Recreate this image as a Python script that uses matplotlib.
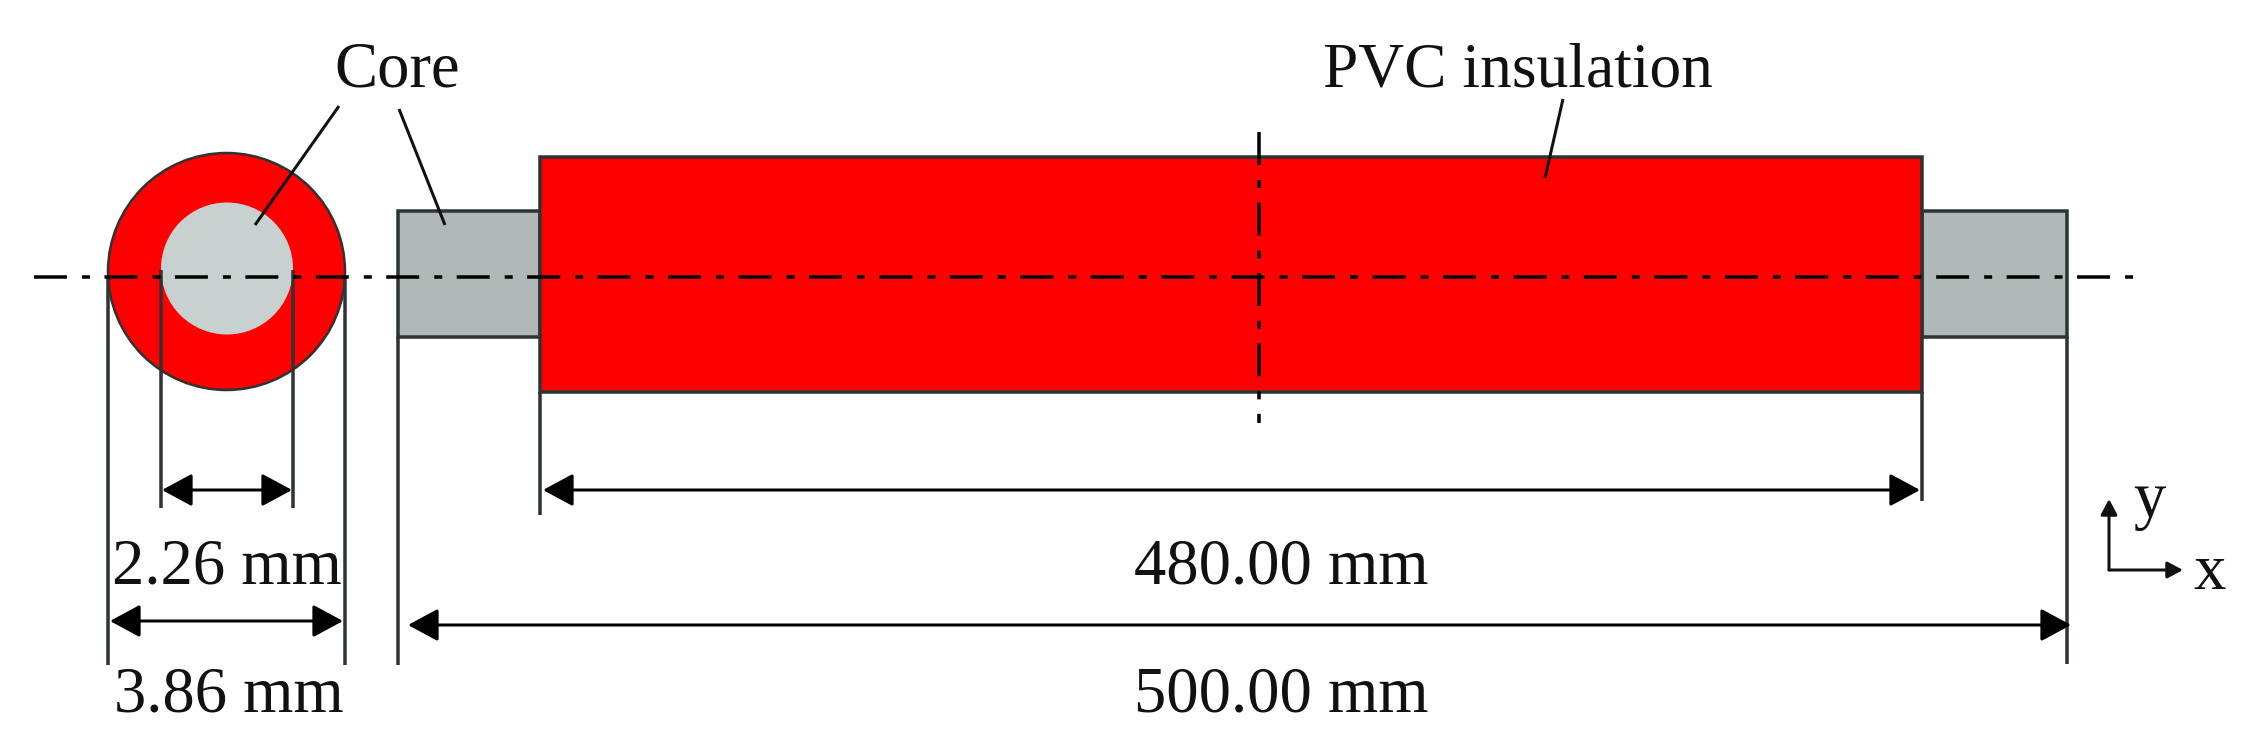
import matplotlib
matplotlib.use("Agg")
import matplotlib.pyplot as plt
from matplotlib.patches import Circle, Rectangle

# everything in reference pixels
W, H = 2246, 748
PX = 0.72  # pixel -> point at dpi 100

plt.rcParams['font.family'] = ['Liberation Serif', 'DejaVu Serif']
plt.rcParams['lines.scale_dashes'] = False

# cross section
outer_center = (226.5, 271.5)
outer_radius = 118.5
core_center = (227, 268.5)
core_radius = 66

# side view: x0, x1, y0, y1
wire_left = (398, 540, 211, 337)
wire_right = (1922, 2067, 211, 337)
insulation = (540, 1922, 156.5, 392)

# center lines: x0, y0, x1, y1
center_lines = [(34, 277, 2133, 277), (1259, 132, 1259, 423)]

# extension lines: x, y0, y1
ext_lines = [(108, 277, 665), (345, 277, 665), (161, 270, 508), (293, 270, 508),
             (398, 337, 665), (2067, 337, 664), (540, 392, 515), (1922, 392, 501)]

# leaders: x0, y0, x1, y1
leaders = [(339, 106, 255, 225), (399, 109, 445, 225), (1563, 99, 1545, 178)]

# dimension arrows: x0, x1, y
dim_arrows = [(162, 292, 490), (110, 343, 621), (543, 1920, 490), (408, 2071, 625)]

# labels: text, x, baseline y, size
labels = [('Core', 334, 86, 46.5), ('PVC insulation', 1323, 86, 45.7),
          ('2.26 mm', 112, 583, 46.5), ('3.86 mm', 114, 712, 46.5),
          ('480.00 mm', 1134, 584, 46.5), ('500.00 mm', 1134, 712, 46.5),
          ('y', 2133, 517, 46.5), ('x', 2193, 589, 46.5)]

# axis triad
origin = (2109, 570)
y_tip = (2109, 499)
x_tip = (2183, 570)

LINE = '#2e3333'

fig = plt.figure(figsize=(W / 100, H / 100), dpi=100)
ax = fig.add_axes([0, 0, 1, 1])
ax.set_xlim(0, W)
ax.set_ylim(H, 0)
ax.axis('off')

# shapes
ax.add_patch(Circle(outer_center, outer_radius, fc='#ff0000', ec=LINE, lw=2.5 * PX, zorder=1))
ax.add_patch(Circle(core_center, core_radius, fc='#c9d1d0', ec='none', zorder=2))
for (x0, x1, y0, y1), col in [(wire_left, '#b1b9b8'), (wire_right, '#b1b9b8'), (insulation, '#ff0000')]:
    ax.add_patch(Rectangle((x0, y0), x1 - x0, y1 - y0, fc=col, ec=LINE, lw=3.5 * PX, zorder=2))

# dash-dot center lines
pattern = (0, (33 * PX, 15 * PX, 8 * PX, 14.45 * PX))
for x0, y0, x1, y1 in center_lines:
    ax.plot([x0, x1], [y0, y1], color='black', lw=3.5 * PX, ls=pattern,
            dash_capstyle='butt', zorder=5)

for x, y0, y1 in ext_lines:
    ax.plot([x, x], [y0, y1], color=LINE, lw=3.5 * PX, solid_capstyle='butt', zorder=4)

for x0, y0, x1, y1 in leaders:
    ax.plot([x0, x1], [y0, y1], color='#111111', lw=3 * PX, solid_capstyle='butt', zorder=6)

big_head = '<|-|>,head_length=%.1f,head_width=%.1f' % (26 * PX, 14 * PX)
for x0, x1, y in dim_arrows:
    ax.annotate('', xy=(x1, y), xytext=(x0, y), zorder=6,
                arrowprops=dict(arrowstyle=big_head, color='black', lw=3 * PX,
                                shrinkA=0, shrinkB=0, mutation_scale=1))

small_head = '-|>,head_length=%.1f,head_width=%.1f' % (13 * PX, 7 * PX)
for tip in (y_tip, x_tip):
    ax.annotate('', xy=tip, xytext=origin, zorder=6,
                arrowprops=dict(arrowstyle=small_head, color='#111111', lw=3 * PX,
                                shrinkA=0, shrinkB=0, mutation_scale=1))

for txt, x, y, size in labels:
    ax.text(x, y, txt, fontsize=size, ha='left', va='baseline', color='#111111', zorder=7)

fig.savefig('out.png', dpi=100)
